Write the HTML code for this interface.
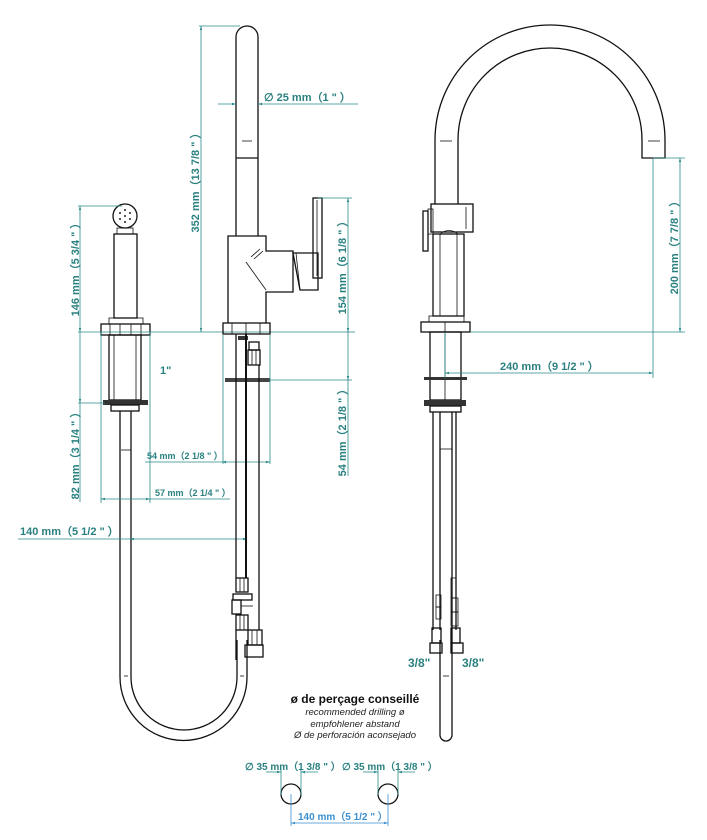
<!DOCTYPE html>
<html><head><meta charset="utf-8"><style>
html,body{margin:0;padding:0;background:#fff}
svg{display:block}
.o{fill:none;stroke:#111;stroke-width:1.3}
.ot{fill:none;stroke:#111;stroke-width:0.8}
.d{fill:none;stroke:#2a8a8a;stroke-width:0.8}
.t{font-family:"Liberation Sans",sans-serif;font-weight:bold;fill:#2a8080;font-size:11px}
.ts{font-family:"Liberation Sans",sans-serif;font-weight:bold;fill:#2a8080;font-size:9px}
</style></head><body>
<svg width="707" height="840" viewBox="0 0 707 840" xmlns="http://www.w3.org/2000/svg">
<defs>
<marker id="a" viewBox="0 0 10 10" refX="10" refY="5" markerWidth="7" markerHeight="5" orient="auto-start-reverse"><path d="M0,2 L10,5 L0,8z" fill="#2a8a8a"/></marker>
<marker id="b" viewBox="0 0 10 10" refX="10" refY="5" markerWidth="7" markerHeight="5" orient="auto-start-reverse"><path d="M0,2 L10,5 L0,8z" fill="#3a8fd0"/></marker>
</defs>

<!-- LEFT HAND SPRAY -->
<circle cx="125" cy="216" r="12" class="o"/>
<g fill="#222"><circle cx="125" cy="210" r="1"/><circle cx="120" cy="213" r="1"/><circle cx="130" cy="213" r="1"/><circle cx="120" cy="219" r="1"/><circle cx="130" cy="219" r="1"/><circle cx="125" cy="222" r="1"/><circle cx="125" cy="216" r="1"/></g>
<rect x="117" y="228" width="16" height="6" class="ot"/>
<rect x="114" y="234" width="23" height="84" class="o"/>
<rect x="109" y="318" width="34" height="6" class="ot"/>
<rect x="101" y="324" width="49" height="11" class="o"/>
<line x1="110" y1="324" x2="110" y2="335" class="ot"/><line x1="120" y1="324" x2="120" y2="335" class="ot"/><line x1="131" y1="324" x2="131" y2="335" class="ot"/><line x1="141" y1="324" x2="141" y2="335" class="ot"/>
<rect x="109" y="335" width="32" height="65" class="o"/>
<line x1="114" y1="335" x2="114" y2="400" class="ot"/><line x1="136" y1="335" x2="136" y2="400" class="ot"/>
<rect x="103" y="400" width="45" height="5" fill="#333"/>
<rect x="111" y="405" width="28" height="6" class="o"/>
<!-- hose -->
<path d="M120,411 V677 A63.5,63.5 0 0 0 247,677 V640" class="o"/>
<path d="M131,411 V677 A53,53 0 0 0 237,677 V640" class="o"/>
<line x1="121" y1="450" x2="131" y2="450" class="ot"/>
<line x1="124" y1="676" x2="128" y2="676" class="ot"/><line x1="240" y1="676" x2="244" y2="676" class="ot"/>

<!-- left dims -->
<line x1="78" y1="206" x2="122" y2="206" class="d"/>
<line x1="80" y1="206" x2="80" y2="332" class="d" marker-start="url(#a)" marker-end="url(#a)"/>
<line x1="80" y1="332" x2="80" y2="403" class="d" marker-end="url(#a)"/>
<line x1="80" y1="403" x2="80" y2="502" class="d"/>
<line x1="78" y1="332" x2="355" y2="332" class="d"/>
<line x1="78" y1="403" x2="105" y2="403" class="d"/>
<text class="t" transform="translate(79,267) rotate(-90)" text-anchor="middle">146 mm（5 3/4 " ）</text>
<text class="t" transform="translate(79,453) rotate(-90)" text-anchor="middle">82 mm（3 1/4 " ）</text>
<line x1="101" y1="332" x2="101" y2="503" class="d"/>
<line x1="150" y1="332" x2="150" y2="503" class="d"/>
<line x1="101" y1="499" x2="150" y2="499" class="d" marker-start="url(#a)" marker-end="url(#a)"/>
<line x1="150" y1="499" x2="230" y2="499" class="d"/>
<text class="ts" x="155" y="496">57 mm（2 1/4 " ）</text>
<text class="t" x="160" y="374" style="fill:#2a8080">1"</text>
<line x1="145" y1="462" x2="222" y2="462" class="d"/>
<line x1="222" y1="462" x2="270" y2="462" class="d" marker-start="url(#a)" marker-end="url(#a)"/>
<text class="ts" x="147" y="459">54 mm（2 1/8 " ）</text>
<line x1="18" y1="539" x2="130" y2="539" class="d"/>
<line x1="130" y1="539" x2="247" y2="539" class="d" marker-start="url(#a)" marker-end="url(#a)"/>
<text class="t" x="20" y="535">140 mm（5 1/2 " ）</text>

<!-- CENTER FAUCET -->
<path d="M236,236 V37 A11,11 0 0 1 258,37 V236" class="o"/>
<line x1="236" y1="158" x2="258" y2="158" class="o"/>
<line x1="242" y1="141" x2="252" y2="141" class="ot"/>
<path d="M228,323 V236 H266 V251 H293 V292 H266 V323" class="o"/>
<path d="M246,262 L266,290" class="ot"/><path d="M251,257 L260,249" class="ot"/><path d="M254,259 L263,251" class="ot"/>
<path d="M293,253 H318 V290 H300 Z" class="o"/>
<line x1="296" y1="253" x2="300" y2="290" class="ot"/>
<rect x="313" y="198" width="9" height="80" class="o"/>
<line x1="317" y1="200" x2="317" y2="276" class="ot"/>
<rect x="223" y="323" width="47" height="11" class="o"/>
<line x1="232" y1="323" x2="232" y2="334" class="ot"/><line x1="246" y1="323" x2="246" y2="334" class="ot"/><line x1="260" y1="323" x2="260" y2="334" class="ot"/>
<rect x="238" y="336" width="10" height="4" fill="#333"/>
<rect x="249" y="342" width="10" height="8" class="o"/>
<rect x="248" y="350" width="12" height="15" class="o"/>
<line x1="252" y1="350" x2="252" y2="365" class="ot"/><line x1="256" y1="350" x2="256" y2="365" class="ot"/>
<rect x="225" y="378" width="45" height="4" fill="#444"/>
<line x1="236" y1="334" x2="236" y2="578" class="o"/>
<line x1="246" y1="334" x2="246" y2="578" class="o" style="stroke-width:2"/>
<line x1="259" y1="365" x2="259" y2="630" class="o"/>
<line x1="223" y1="334" x2="223" y2="464" class="d"/>
<line x1="270" y1="334" x2="270" y2="464" class="d"/>
<rect x="236" y="578" width="12" height="14" class="o"/>
<line x1="240" y1="578" x2="240" y2="592" class="ot"/><line x1="244" y1="578" x2="244" y2="592" class="ot"/>
<rect x="233" y="594" width="19" height="6" class="o"/>
<rect x="232" y="600" width="9" height="14" class="o"/>
<line x1="241" y1="606" x2="253" y2="606" class="ot"/>
<rect x="236" y="615" width="12" height="15" class="o"/>
<line x1="240" y1="615" x2="240" y2="630" class="ot"/><line x1="244" y1="615" x2="244" y2="630" class="ot"/>
<rect x="248" y="630" width="14" height="15" class="o"/>
<line x1="252" y1="630" x2="252" y2="645" class="ot"/><line x1="257" y1="630" x2="257" y2="645" class="ot"/>
<rect x="245" y="645" width="18" height="12" class="o"/>
<line x1="236" y1="630" x2="236" y2="660" class="o"/>

<!-- center dims -->
<line x1="199" y1="26" x2="240" y2="26" class="d"/>
<line x1="201" y1="26" x2="201" y2="332" class="d" marker-start="url(#a)" marker-end="url(#a)"/>
<text class="t" transform="translate(199,180) rotate(-90)" text-anchor="middle">352 mm（13 7/8 " ）</text>
<line x1="218" y1="104" x2="236" y2="104" class="d" marker-end="url(#a)"/>
<line x1="258" y1="104" x2="358" y2="104" class="d" marker-start="url(#a)"/>
<text class="t" x="264" y="101">∅ 25 mm（1 " ）</text>
<line x1="318" y1="198" x2="352" y2="198" class="d"/>
<line x1="348" y1="198" x2="348" y2="332" class="d" marker-start="url(#a)" marker-end="url(#a)"/>
<line x1="348" y1="332" x2="348" y2="380" class="d" marker-end="url(#a)"/>
<line x1="348" y1="380" x2="348" y2="476" class="d"/>
<line x1="270" y1="380" x2="352" y2="380" class="d"/>
<text class="t" transform="translate(346,265) rotate(-90)" text-anchor="middle">154 mm（6 1/8 " ）</text>
<text class="t" transform="translate(346,430) rotate(-90)" text-anchor="middle">54 mm（2 1/8 " ）</text>

<!-- RIGHT FAUCET -->
<path d="M435,204 V140 A115,115 0 0 1 665,140 V158 H642 V140 A92,92 0 0 0 458,140 V204" class="o"/>
<line x1="440" y1="141" x2="452" y2="141" class="ot"/><line x1="648" y1="141" x2="660" y2="141" class="ot"/>
<rect x="431" y="204" width="42" height="28" class="o"/>
<line x1="466" y1="207" x2="466" y2="229" class="ot"/>
<rect x="423" y="211" width="5" height="40" class="o"/>
<rect x="428" y="209" width="5" height="25" class="ot"/>
<path d="M440,234 Q449,227 458,234" class="ot"/>
<rect x="433" y="234" width="31" height="82" class="o"/>
<line x1="440" y1="234" x2="440" y2="316" class="ot"/><line x1="457" y1="234" x2="457" y2="316" class="ot"/>
<rect x="429" y="316" width="35" height="6" class="ot"/>
<rect x="421" y="322" width="49" height="10" class="o"/>
<line x1="445" y1="322" x2="445" y2="332" class="ot"/>
<rect x="430" y="332" width="31" height="68" class="o"/>
<line x1="445" y1="332" x2="445" y2="400" class="ot"/>
<rect x="424" y="377" width="43" height="3" fill="#333"/>
<rect x="424" y="400" width="42" height="6" fill="#333"/>
<rect x="430" y="406" width="31" height="6" class="o"/>
<line x1="433" y1="412" x2="433" y2="630" class="o"/>
<line x1="440" y1="412" x2="440" y2="630" class="o"/>
<line x1="452" y1="412" x2="452" y2="640" class="o"/>
<line x1="456" y1="412" x2="456" y2="630" class="o"/>
<line x1="440" y1="449" x2="452" y2="449" class="ot"/>
<rect x="451" y="578" width="5" height="20" class="ot"/>
<rect x="436" y="595" width="5" height="12" class="ot"/><rect x="436" y="607" width="5" height="12" class="ot"/>
<rect x="451" y="598" width="7" height="14" class="ot"/><rect x="451" y="612" width="7" height="14" class="ot"/>
<rect x="432" y="628" width="9" height="15" class="o"/>
<rect x="451" y="628" width="9" height="15" class="o"/>
<rect x="430" y="643" width="12" height="10" class="o"/>
<rect x="451" y="643" width="12" height="10" class="o"/>
<path d="M440,640 V735 A6,6 0 0 0 452,735 V640" class="o"/>
<line x1="443" y1="676" x2="449" y2="676" class="ot"/>
<text class="t" x="408" y="667" style="font-size:12px">3/8"</text>
<text class="t" x="462" y="667" style="font-size:12px">3/8"</text>

<!-- right dims -->
<line x1="653" y1="158" x2="685" y2="158" class="d"/>
<line x1="470" y1="332" x2="685" y2="332" class="d"/>
<line x1="680" y1="158" x2="680" y2="332" class="d" marker-start="url(#a)" marker-end="url(#a)"/>
<text class="t" transform="translate(678,245) rotate(-90)" text-anchor="middle">200 mm（7 7/8 " ）</text>
<line x1="653" y1="158" x2="653" y2="378" class="d"/>
<line x1="445" y1="332" x2="445" y2="378" class="d"/>
<line x1="445" y1="373" x2="653" y2="373" class="d" marker-start="url(#a)" marker-end="url(#a)"/>
<text class="t" x="500" y="370">240 mm（9 1/2 " ）</text>

<!-- bottom notes -->
<text x="355" y="703" text-anchor="middle" style="font-family:'Liberation Sans',sans-serif;font-weight:bold;font-size:12px;fill:#111">ø de perçage conseillé</text>
<g style="font-family:'Liberation Sans',sans-serif;font-style:italic;font-size:9.5px;fill:#222" text-anchor="middle">
<text x="355" y="715">recommended drilling ø</text>
<text x="355" y="727">empfohlener abstand</text>
<text x="355" y="738">Ø de perforación aconsejado</text></g>
<circle cx="291" cy="794" r="10" class="o"/>
<circle cx="388" cy="794" r="10" class="o"/>
<line x1="281" y1="768" x2="281" y2="795" class="d"/><line x1="301" y1="768" x2="301" y2="795" class="d"/>
<line x1="378" y1="768" x2="378" y2="795" class="d"/><line x1="398" y1="768" x2="398" y2="795" class="d"/>
<line x1="266" y1="772" x2="281" y2="772" class="d" marker-end="url(#a)"/><line x1="301" y1="772" x2="318" y2="772" class="d" marker-start="url(#a)"/>
<line x1="363" y1="772" x2="378" y2="772" class="d" marker-end="url(#a)"/><line x1="398" y1="772" x2="415" y2="772" class="d" marker-start="url(#a)"/>
<text class="ts" x="245" y="770" style="font-size:10px">∅ 35 mm（1 3/8 " ）</text>
<text class="ts" x="342" y="770" style="font-size:10px">∅ 35 mm（1 3/8 " ）</text>
<line x1="291" y1="794" x2="291" y2="826" style="stroke:#3a8fd0;stroke-width:0.8"/>
<line x1="388" y1="794" x2="388" y2="826" style="stroke:#3a8fd0;stroke-width:0.8"/>
<line x1="291" y1="823" x2="388" y2="823" style="stroke:#3a8fd0;stroke-width:0.8" marker-start="url(#b)" marker-end="url(#b)"/>
<text x="298" y="820" style="font-family:'Liberation Sans',sans-serif;font-weight:bold;font-size:10px;fill:#3a8fd0">140 mm（5 1/2 " ）</text>
</svg>
</body></html>
